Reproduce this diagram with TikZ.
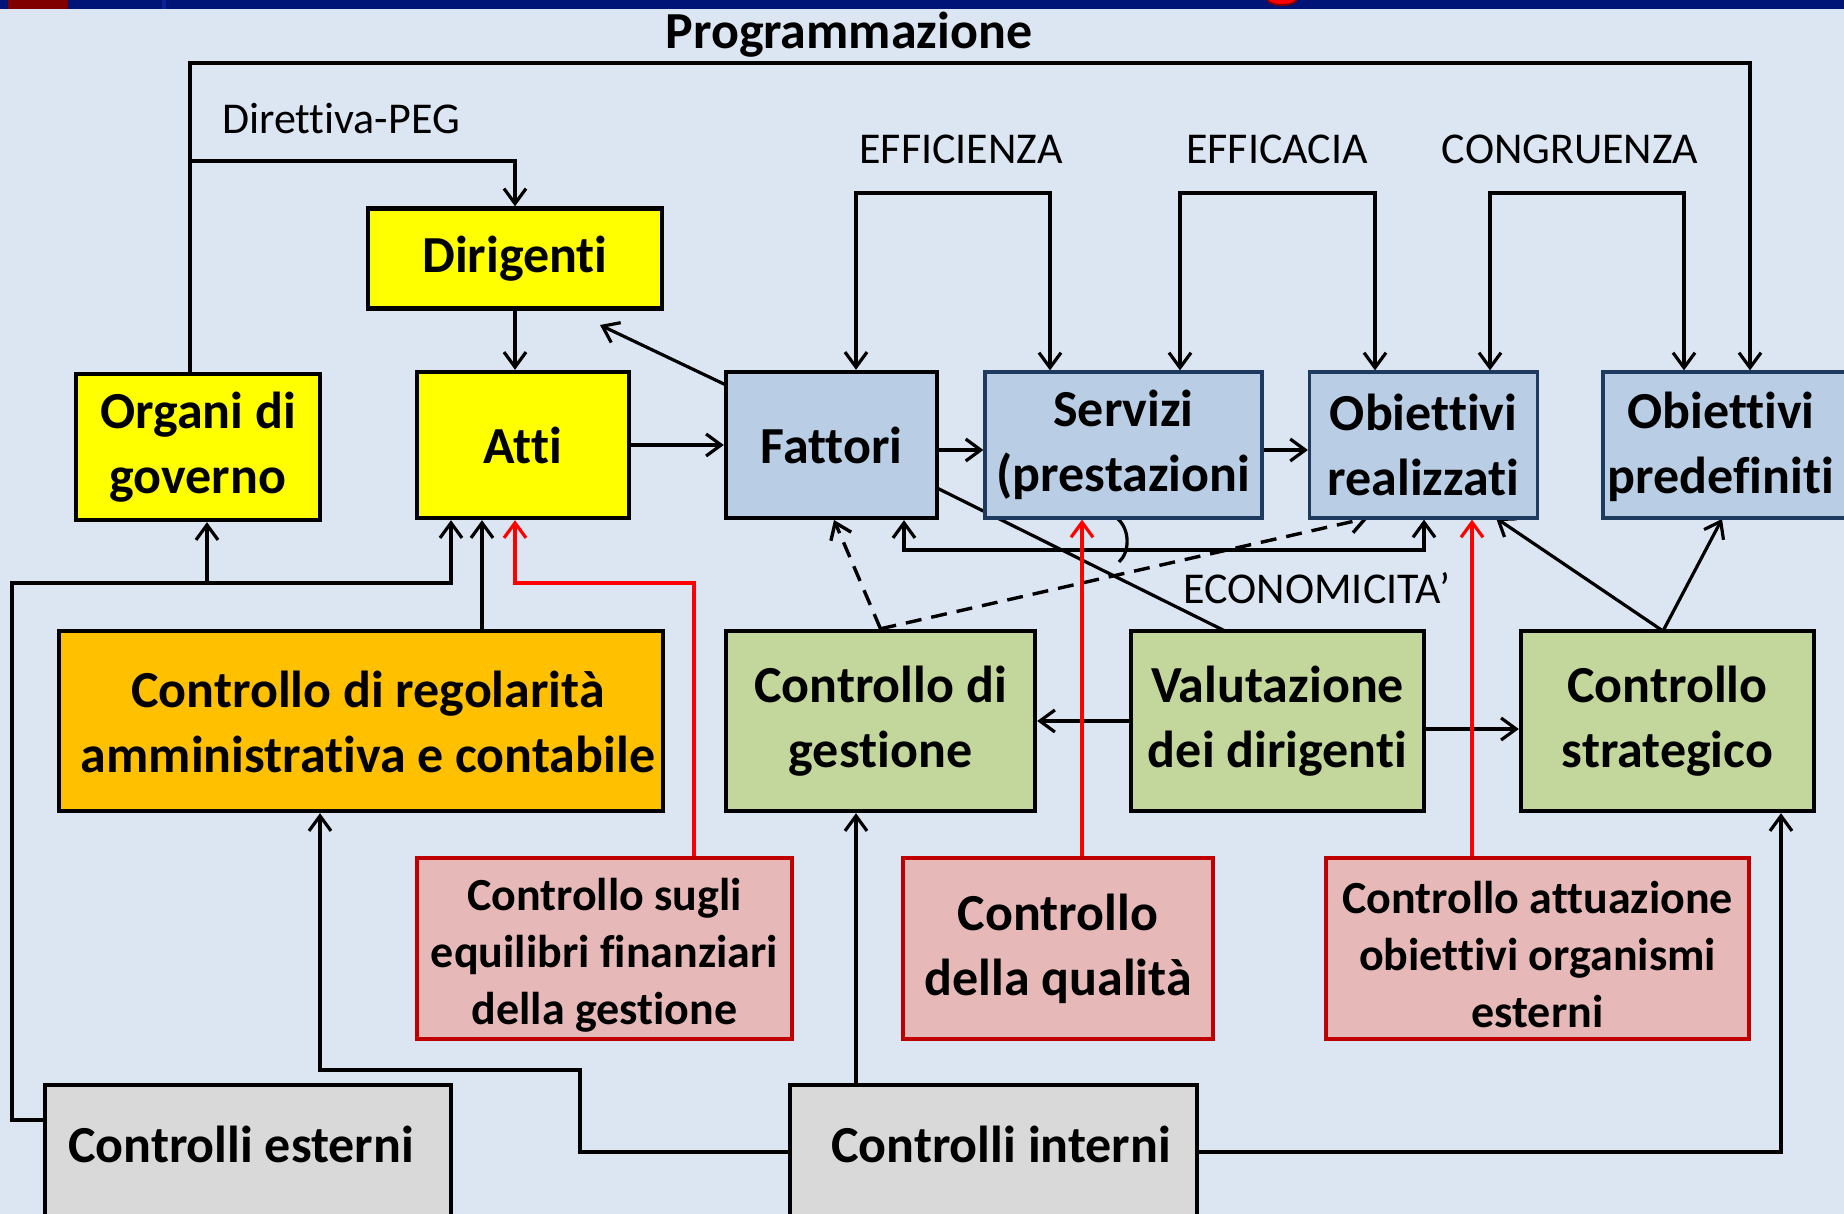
\documentclass[tikz,border=0pt]{standalone}
\usepackage{fontspec}
\setmainfont{Carlito}[Ligatures={NoCommon}]
\usetikzlibrary{arrows.meta,calc}
\definecolor{bgpage}{HTML}{DCE6F2}
\definecolor{navyband}{HTML}{001478}
\definecolor{bandred}{HTML}{800000}
\definecolor{bandline}{HTML}{0A2496}
\definecolor{yel}{HTML}{FFFF00}
\definecolor{orng}{HTML}{FFC000}
\definecolor{lblue}{HTML}{B9CDE5}
\definecolor{dblue}{HTML}{1F3A5F}
\definecolor{lgreen}{HTML}{C3D69B}
\definecolor{pinkred}{HTML}{E6B9B8}
\definecolor{dred}{HTML}{C00000}
\definecolor{lgray}{HTML}{D9D9D9}
\definecolor{redline}{HTML}{FF0000}
\pgfdeclarelayer{wires}
\pgfsetlayers{wires,main}
\begin{document}
\begin{tikzpicture}[x=0.5pt,y=-0.5pt,
  >={Straight Barb[length=7.5pt,width=11pt]},
  sz/.style 2 args={minimum width={#1*0.5pt},minimum height={#2*0.5pt}},
  bigtxt/.style={font=\bfseries\fontsize{26}{32.5}\selectfont},
  smalltxt/.style={font=\bfseries\fontsize{23}{28.5}\selectfont},
  lbl/.style={font=\fontsize{22}{26}\selectfont,inner sep=0pt},
  box/.style={draw=black,line width=2.2pt,align=center,inner sep=0pt,bigtxt},
  yelbox/.style={box,fill=yel},
  orbox/.style={box,fill=orng},
  bluebox/.style={box,fill=lblue,draw=dblue,line width=1.6pt},
  grbox/.style={box,fill=lgreen},
  redbox/.style={box,fill=pinkred,draw=dred,line width=1.8pt},
  graybox/.style={box,fill=lgray},
  txt/.style={align=center,inner sep=0pt},
  conn/.style={line width=1.6pt,draw=black},
  redconn/.style={line width=1.6pt,draw=redline},
  dashconn/.style={conn,line width=1.7pt,dash pattern=on 8pt off 5pt}
]
\useasboundingbox (0,0) rectangle (1844,1214);

% page background and top band
\begin{pgfonlayer}{wires}
  \fill[bgpage] (0,0) rectangle (1844,1214);
  \fill[navyband] (0,0) rectangle (1844,9);
  \fill[bandred] (8,0) rectangle (68,9);
  \fill[bandline] (162,0) rectangle (166,9);
  \fill[redline,draw=bandred,line width=1pt] (1282,-1) ellipse [x radius=15,y radius=6];
\end{pgfonlayer}

% first row
\node[yelbox,sz={294}{100}] (dir) at (515,258.5) {Dirigenti};
\node[yelbox,sz={244}{146}] (org) at (198,447) {Organi di\\governo};
\node[yelbox,sz={212}{146}] (atti) at (523,445) {Atti};
\node[box,fill=lblue,sz={211}{146}] (fat) at (831.5,445) {Fattori};
\node[bluebox,sz={277}{146}] (serv) at (1123.5,445) {Servizi\\(prestazioni};
\node[bluebox,sz={228}{146}] (oreal) at (1423.5,445) {Obiettivi\\realizzati};
\node[bluebox,sz={243}{146}] (opred) at (1724.5,445) {};
\node[bigtxt,txt] (opredT) at (1721,447) {Obiettivi\\predefiniti};

% second row
\node[orbox,sz={604}{180}] (creg) at (361,721) {};
\node[bigtxt,txt] (cregT) at (368,722) {Controllo di regolarità\\amministrativa e contabile};
\node[grbox,sz={309}{180}] (cges) at (880.5,721) {Controllo di\\gestione};
\node[grbox,sz={293}{180}] (val) at (1277.5,721) {Valutazione\\dei dirigenti};
\node[grbox,sz={293}{180}] (cstr) at (1667.5,721) {Controllo\\strategico};

% third row
\node[redbox,sz={375}{181}] (ceq) at (604.5,948.5) {};
\node[smalltxt,txt] (ceqT) at (604.5,955) {Controllo sugli\\equilibri finanziari\\della gestione};
\node[redbox,sz={310}{181}] (cqual) at (1058,948.5) {Controllo\\della qualità};
\node[redbox,sz={423}{181}] (catt) at (1537.5,948.5) {};
\node[smalltxt,txt] (cattT) at (1537.5,955) {Controllo attuazione\\obiettivi organismi\\esterni};

% bottom row
\node[graybox,sz={406}{170}] (cest) at (248,1170) {};
\node[bigtxt,txt] (cestT) at (241,1144) {Controlli esterni};
\node[graybox,sz={407}{170}] (cint) at (993.5,1170) {};
\node[bigtxt,txt] (cintT) at (1001,1144) {Controlli interni};

% labels
\node[font=\bfseries\fontsize{26}{30}\selectfont,inner sep=0pt] (prog) at (849,35) {Programmazione};
\node[lbl] (dirpeg) at (341,119) {Direttiva-PEG};
\node[lbl] (effic) at (961,149) {EFFICIENZA};
\node[lbl] (effica) at (1277,149) {EFFICACIA};
\node[lbl] (congr) at (1570,149) {CONGRUENZA};
\node[lbl] (econ) at (1317,588) {ECONOMICITA’};

% junction points
\coordinate (pgL) at (190,63);
\coordinate (pgR) at (1750,63);
\coordinate (dvL) at (190,161);
\coordinate (ef1) at (856,193);
\coordinate (ef2) at (1050,193);
\coordinate (ea1) at (1180,193);
\coordinate (ea2) at (1375,193);
\coordinate (co1) at (1490,193);
\coordinate (co2) at (1684,193);
\coordinate (ec1) at (904,550);
\coordinate (ec2) at (1424,550);
\coordinate (rowA) at (0,450);
\coordinate (fd1) at (726,385);
\coordinate (fd2) at (600,325);
\coordinate (fv1) at (937,488);
\coordinate (fv2) at (1225,631);
\coordinate (dsF) at (834,520);
\coordinate (dsO) at (1368,518);
\coordinate (csO) at (1496,518);
\coordinate (csP) at (1722,519);
\coordinate (csS) at (1663,631);
\coordinate (arcA) at (1118,519);
\coordinate (arcB) at (1119,562);
\coordinate (lfA) at (12,1120);
\coordinate (lfB) at (12,583);
\coordinate (lfC) at (451,583);
\coordinate (lfO) at (207,583);
\coordinate (rdA) at (694,583);
\coordinate (rdB) at (515,583);
\coordinate (ciA) at (580,1152);
\coordinate (ciB) at (580,1070);
\coordinate (ciC) at (320,1070);
\coordinate (ciR) at (1781,1152);

\begin{pgfonlayer}{wires}
  % programming and directive lines
  \draw[conn,->] (org.north -| pgL) -- (pgL) -- (pgR) -- (opred.north -| pgR);
  \draw[conn,->] (dvL) -| (dir.north);
  \draw[conn,->] (dir.south) -- (dir.south |- atti.north);
  \draw[conn,->] (fd1) -- (fd2);
  % main flow
  \draw[conn,->] (atti.east) -- (fat.west);
  \draw[conn,->] (fat.east |- rowA) -- (serv.west |- rowA);
  \draw[conn,->] (serv.east |- rowA) -- (oreal.west |- rowA);
  % efficiency, effectiveness, congruence brackets
  \draw[conn,<->] (fat.north -| ef1) -- (ef1) -- (ef2) -- (serv.north -| ef2);
  \draw[conn,<->] (serv.north -| ea1) -- (ea1) -- (ea2) -- (oreal.north -| ea2);
  \draw[conn,<->] (oreal.north -| co1) -- (co1) -- (co2) -- (opred.north -| co2);
  % economy bracket
  \draw[conn,<->] (fat.south -| ec1) -- (ec1) -- (ec2) -- (oreal.south -| ec2);
  \draw[conn] (arcA) .. controls (1130,530) and (1130,552) .. (arcB);
  % management control links
  \draw[dashconn,->] (cges.north) -- (dsF);
  \draw[dashconn,->] (cges.north) -- (dsO);
  \draw[conn] (fv1) -- (fv2);
  \draw[conn,->] (csS) -- (csO);
  \draw[conn,->] (csS) -- (csP);
  \draw[conn,->] (val.west) -- (cges.east);
  \draw[conn,->] (val.east |- 0,729) -- (cstr.west |- 0,729);
  \draw[conn,->] (creg.north -| 482,0) -- (atti.south -| 482,0);
  % external controls
  \draw[conn,->] (cest.west |- lfA) -- (lfA) -- (lfB) -- (lfC) -- (atti.south -| lfC);
  \draw[conn,->] (lfO) -- (org.south -| lfO);
  % red control lines
  \draw[redconn,->] (ceq.north -| rdA) -- (rdA) -- (rdB) -- (atti.south -| rdB);
  \draw[redconn,->] (cqual.north -| 1082,0) -- (serv.south -| 1082,0);
  \draw[redconn,->] (catt.north -| 1472,0) -- (oreal.south -| 1472,0);
  % internal controls
  \draw[conn,->] (cint.west |- ciA) -- (ciA) -- (ciB) -- (ciC) -- (creg.south -| ciC);
  \draw[conn,->] (cint.north -| 856,0) -- (cges.south -| 856,0);
  \draw[conn,->] (cint.east |- ciR) -- (ciR) -- (cstr.south -| ciR);
\end{pgfonlayer}
\end{tikzpicture}
\end{document}
